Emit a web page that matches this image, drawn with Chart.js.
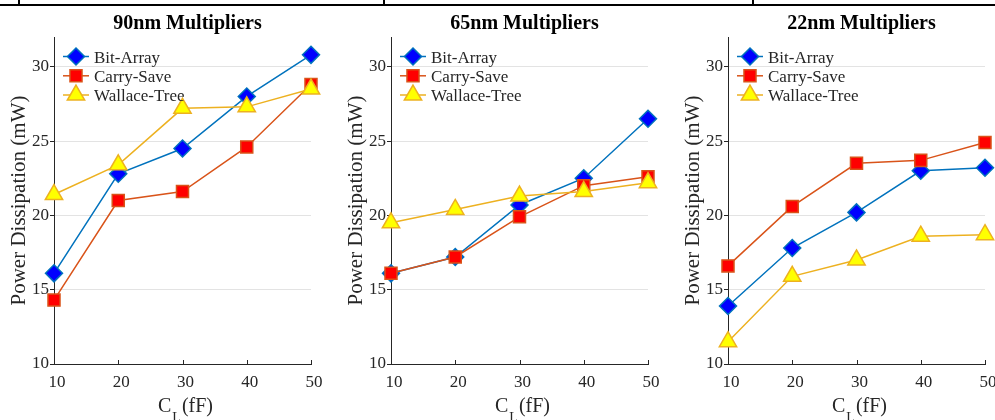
<!DOCTYPE html>
<html>
<head>
<meta charset="utf-8">
<script src="https://cdn.jsdelivr.net/npm/chart.js@4"></script>
<style>
  html, body { margin: 0; padding: 0; background: #fff; }
  body { width: 995px; height: 420px; overflow: hidden; position: relative; }
  canvas { position: absolute; top: 0; }
  .rule { position: absolute; background: #000; }
</style>
</head>
<body>
<div class="rule" style="left:0; top:4px; width:995px; height:2px;"></div>
<div class="rule" style="left:18px; top:0; width:2px; height:5px;"></div>
<div class="rule" style="left:383px; top:0; width:2px; height:5px;"></div>
<div class="rule" style="left:752px; top:0; width:2px; height:5px;"></div>
<canvas id="c90" width="337" height="420" style="left:0"></canvas>
<canvas id="c65" width="337" height="420" style="left:337px"></canvas>
<canvas id="c22" width="337" height="420" style="left:674px"></canvas>
<script>
// 横軸（負荷容量 fF）と縦軸の目盛
const xValues = [10, 20, 30, 40, 50];
const yTicks = [10, 15, 20, 25, 30];
const seriesNames = ['Bit-Array', 'Carry-Save', 'Wallace-Tree'];
const panelTitles = ['90nm Multipliers', '65nm Multipliers', '22nm Multipliers'];

// 消費電力 (mW)
const bitArray90 = [16.1, 22.8, 24.5, 28.0, 30.8];
const carrySave90 = [14.3, 21.0, 21.6, 24.6, 28.8];
const wallace90 = [21.4, 23.4, 27.2, 27.3, 28.5];

const bitArray65 = [16.1, 17.2, 20.7, 22.5, 26.5];
const carrySave65 = [16.1, 17.2, 19.9, 22.0, 22.6];
const wallace65 = [19.5, 20.4, 21.3, 21.6, 22.2];

const bitArray22 = [13.9, 17.8, 20.2, 23.0, 23.2];
const carrySave22 = [16.6, 20.6, 23.5, 23.7, 24.9];
const wallace22 = [11.5, 15.9, 17.0, 18.6, 18.7];

const lineColors = ['#0072BD', '#D95319', '#EDB120'];
const fillColors = ['#0000FF', '#FF0000', '#FFFF00'];
const markers = ['rectRot', 'rect', 'triangle'];
const markerRadius = [8.5, 8.5, 10];

const serif = '"Liberation Serif", "Times New Roman", serif';

function drawMarker(ctx, style, x, y, r) {
    ctx.beginPath();
    if (style === 'rectRot') {
        ctx.moveTo(x, y - r); ctx.lineTo(x + r, y); ctx.lineTo(x, y + r); ctx.lineTo(x - r, y);
    } else if (style === 'rect') {
        const s = r * Math.SQRT1_2;
        ctx.rect(x - s, y - s, 2 * s, 2 * s);
    } else {
        ctx.moveTo(x, y - r);
        ctx.lineTo(x + r * Math.sin(Math.PI / 3), y + r / 2);
        ctx.lineTo(x - r * Math.sin(Math.PI / 3), y + r / 2);
    }
    ctx.closePath();
    ctx.fill();
    ctx.stroke();
}

// タイトル、内向きの目盛、凡例、C_L ラベルを描く
function panelPlugin(title) {
    return {
        id: 'panelDecor',
        afterDraw(chart) {
            const ctx = chart.ctx;
            const a = chart.chartArea;
            const xs = chart.scales.x;
            ctx.save();

            ctx.fillStyle = '#000';
            ctx.font = 'bold 20px ' + serif;
            ctx.textAlign = 'center';
            ctx.textBaseline = 'alphabetic';
            ctx.fillText(title, (a.left + a.right) / 2 + 5, 29);

            ctx.strokeStyle = '#262626';
            ctx.lineWidth = 1;
            xValues.slice(1).forEach(v => {
                const px = Math.round(xs.getPixelForValue(v)) + 0.5;
                ctx.beginPath();
                ctx.moveTo(px, a.bottom);
                ctx.lineTo(px, a.bottom - 4);
                ctx.stroke();
            });

            // x 軸タイトル C_L (fF)
            ctx.fillStyle = '#262626';
            ctx.textAlign = 'left';
            const big = '20px ' + serif, small = '14px ' + serif;
            ctx.font = big;
            const wC = ctx.measureText('C').width;
            const wP = ctx.measureText('(fF)').width;
            ctx.font = small;
            const wL = ctx.measureText('L').width;
            let tx = (a.left + a.right) / 2 + 3 - (wC + wL + wP + 2) / 2;
            ctx.font = big;
            ctx.fillText('C', tx, 412);
            tx += wC + 1;
            ctx.font = small;
            ctx.fillText('L', tx, 422);
            tx += wL + 1;
            ctx.font = big;
            ctx.fillText('(fF)', tx, 412);

            // 凡例
            const rows = [19.5, 38.8, 58];
            ctx.font = '17px ' + serif;
            seriesNames.forEach((name, i) => {
                const cy = a.top + rows[i];
                ctx.strokeStyle = lineColors[i];
                ctx.lineWidth = 1.5;
                ctx.beginPath();
                ctx.moveTo(a.left + 9, cy);
                ctx.lineTo(a.left + 35, cy);
                ctx.stroke();
                ctx.fillStyle = fillColors[i];
                drawMarker(ctx, markers[i], a.left + 22, cy, markerRadius[i]);
                ctx.fillStyle = '#262626';
                ctx.fillText(name, a.left + 40, cy + 6);
            });
            ctx.restore();
        }
    };
}

function makeChart(id, title, series) {
    const datasets = series.map((values, i) => ({
        label: seriesNames[i],
        data: xValues.map((x, j) => ({ x: x, y: values[j] })),
        borderColor: lineColors[i],
        borderWidth: 1.5,
        backgroundColor: fillColors[i],
        pointStyle: markers[i],
        pointRadius: markerRadius[i],
        pointHoverRadius: markerRadius[i],
        pointBackgroundColor: fillColors[i],
        pointBorderColor: lineColors[i],
        pointBorderWidth: 1.5,
        order: 3 - i,
        clip: false,
        tension: 0
    }));

    return new Chart(document.getElementById(id), {
        type: 'line',
        data: { datasets: datasets },
        options: {
            responsive: false,
            animation: false,
            layout: { padding: { left: 0, right: 26, top: 37, bottom: 0 } },
            plugins: { legend: { display: false }, tooltip: { enabled: false } },
            scales: {
                x: {
                    type: 'linear',
                    min: 10,
                    max: 50,
                    afterBuildTicks: s => { s.ticks = xValues.map(v => ({ value: v })); },
                    afterFit: s => { s.height = 56; },
                    grid: { display: false, drawTicks: false },
                    border: { display: true, color: '#262626', width: 1 },
                    ticks: {
                        padding: 8,
                        labelOffset: 3,
                        maxRotation: 0,
                        color: '#262626',
                        font: { family: serif, size: 17 }
                    }
                },
                y: {
                    min: 10,
                    max: 32,
                    afterBuildTicks: s => { s.ticks = yTicks.map(v => ({ value: v })); },
                    afterFit: s => { s.width = 54; },
                    grid: {
                        color: c => (c.tick && c.tick.value === 10) ? 'rgba(0,0,0,0)' : '#e3e3e3',
                        tickColor: '#262626',
                        tickLength: 4,
                        lineWidth: 1
                    },
                    border: { display: true, color: '#262626', width: 1 },
                    ticks: {
                        padding: 1,
                        color: '#262626',
                        font: { family: serif, size: 17 }
                    },
                    title: {
                        display: true,
                        text: 'Power Dissipation (mW)',
                        color: '#262626',
                        font: { family: serif, size: 21 },
                        padding: { top: 7, bottom: 0 }
                    }
                }
            }
        },
        plugins: [panelPlugin(title)]
    });
}

makeChart('c90', panelTitles[0], [bitArray90, carrySave90, wallace90]);
makeChart('c65', panelTitles[1], [bitArray65, carrySave65, wallace65]);
makeChart('c22', panelTitles[2], [bitArray22, carrySave22, wallace22]);
</script>
</body>
</html>
